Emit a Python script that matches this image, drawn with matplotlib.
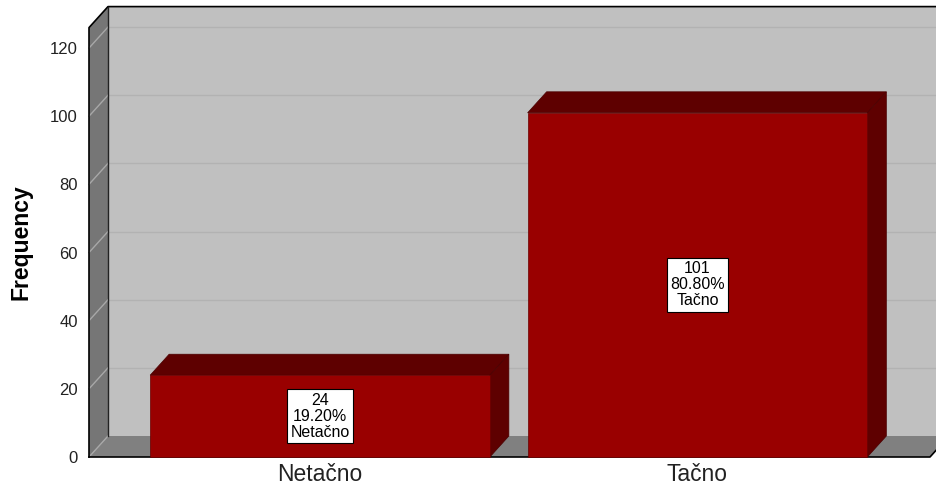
import matplotlib
matplotlib.use('Agg')
from matplotlib import pyplot as plt
from matplotlib.patches import Polygon

# chart data
categories = ['Netačno', 'Tačno']
counts = [24, 101]
percents = [19.20, 80.80]
yticks = [0, 20, 40, 60, 80, 100, 120]

plt.rcParams['font.family'] = ['Liberation Sans', 'DejaVu Sans']

fig = plt.figure(figsize=(9.37, 4.92), dpi=100)
# axes = the front plane of the 3D box
ax = fig.add_axes([89 / 937, 35 / 492, 841 / 937, 429.4 / 492])
xmin, xmax = -0.612, 1.616
ymax = 126
ax.set_xlim(xmin, xmax)
ax.set_ylim(0, ymax)
for s in ax.spines.values():
    s.set_visible(False)
ax.patch.set_visible(False)

# depth of the box in data units (19 px right, 21 px up)
p0 = ax.transData.transform((0, 0))
p1 = ax.transData.transform((1, 1))
dx = 19 / (p1[0] - p0[0])
dy = 21 / (p1[1] - p0[1])


def poly(pts, fc, ec='none', lw=0, z=1):
    ax.add_patch(Polygon(pts, closed=True, facecolor=fc, edgecolor=ec,
                         linewidth=lw, zorder=z, clip_on=False))


# back wall
poly([(xmin + dx, dy), (xmax + dx, dy), (xmax + dx, ymax + dy), (xmin + dx, ymax + dy)],
     '#c0c0c0', z=1)
# left wall
poly([(xmin, 0), (xmin, ymax), (xmin + dx, ymax + dy), (xmin + dx, dy)], '#767676', z=2)
# floor
poly([(xmin, 0), (xmax, 0), (xmax + dx, dy), (xmin + dx, dy)], '#808080', z=2)

# gridlines
for v in yticks:
    if v > 0:
        ax.plot([xmin + dx, xmax + dx], [v + dy, v + dy], color='#b2b2b2', lw=1,
                zorder=1.5, clip_on=False)
    ax.plot([xmin, xmin + dx], [v, v + dy], color='#a8a8a8', lw=1, zorder=2.5, clip_on=False)

# outline of the box
ax.plot([xmin, xmin, xmin + dx, xmax + dx], [0, ymax, ymax + dy, ymax + dy],
        color='black', lw=1.2, zorder=3, clip_on=False)
ax.plot([xmin + dx, xmin + dx], [dy, ymax + dy], color='#222222', lw=1, zorder=3, clip_on=False)
ax.plot([xmin, xmax, xmax + dx], [0, 0, dy], color='black', lw=1.2, zorder=3, clip_on=False)

# bars
w = 0.90
for i, (c, v) in enumerate(zip(categories, counts)):
    l, r = i - w / 2, i + w / 2
    poly([(l, v), (r, v), (r + dx, v + dy), (l + dx, v + dy)], '#5e0000', '#4a0000', 0.5, z=4)
    poly([(r, 0), (r, v), (r + dx, v + dy), (r + dx, dy)], '#5e0000', '#4a0000', 0.5, z=4)
    ax.bar(i, v, width=w, color='#990000', edgecolor='#6a0000', linewidth=0.5, zorder=5,
           clip_on=False)
    ax.text(i, v / 2, f'{v}\n{percents[i]:.2f}%\n{c}', ha='center', va='center',
            fontsize=11.5, linespacing=1.08, zorder=6,
            bbox=dict(boxstyle='square,pad=0.2', facecolor='white', edgecolor='black',
                      linewidth=0.8))

ax.set_xticks(range(len(categories)))
ax.set_xticklabels(categories, fontsize=16.5, color='#222222')
ax.set_yticks(yticks)
ax.set_yticklabels([str(t) for t in yticks], fontsize=12, color='#222222')
ax.tick_params(axis='x', length=0, pad=4)
ax.tick_params(axis='y', length=0, pad=8)

fig.text(21 / 937, 1 - 242 / 492, 'Frequency', rotation=90, ha='center', va='center',
         fontsize=16.5, fontweight='bold')

fig.savefig('out.png', dpi=100)
